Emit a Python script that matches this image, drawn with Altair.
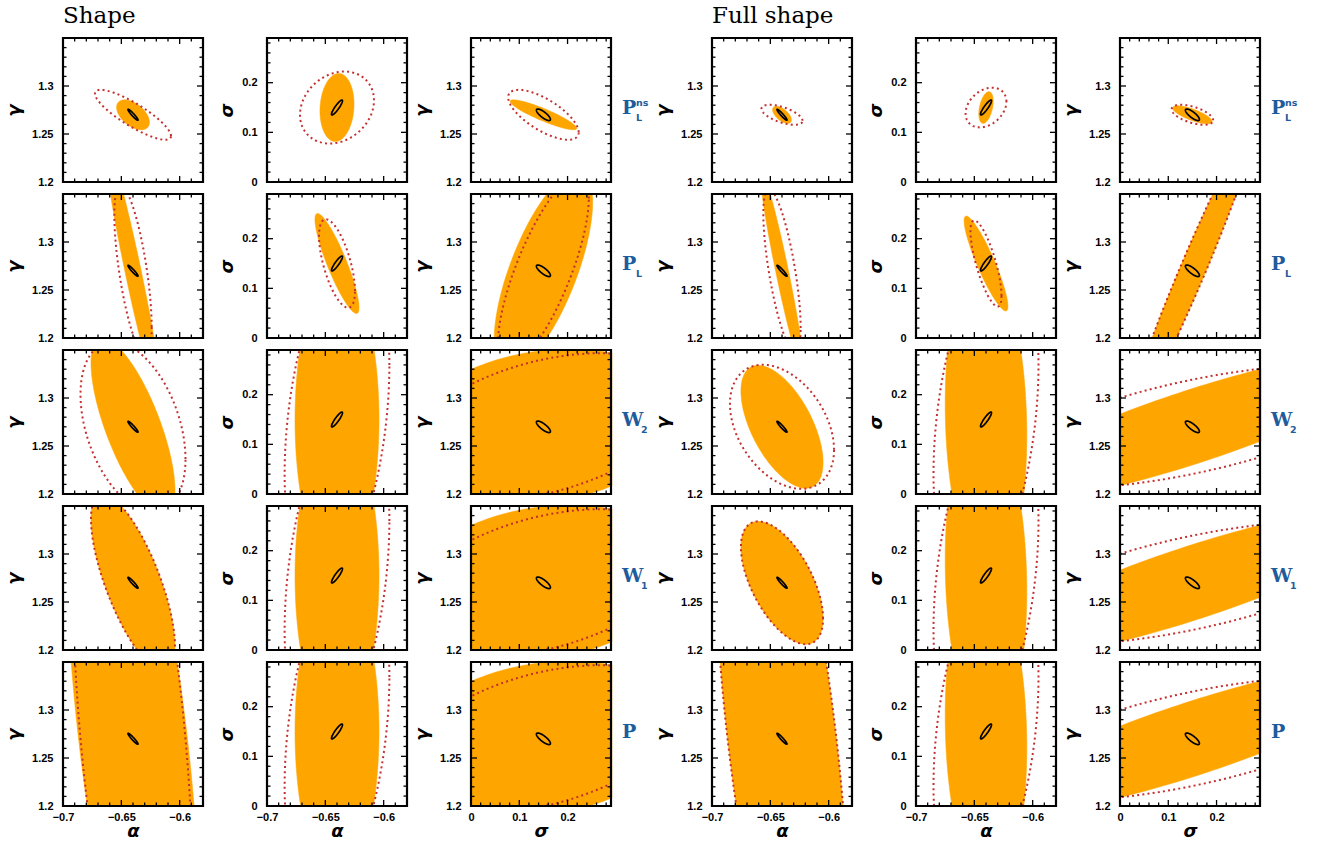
import numpy as np
import pandas as pd
import altair as alt

ORANGE = "#FFA500"
RED = "#C3302F"
BLUE = "#1F5C9C"
W, H = 140, 144
EXTRA = 37  # extra room right of the third column for the row labels

# axis ranges and fiducial point
DOMAIN = {"alpha": [-0.7, -0.58], "gamma": [1.2, 1.35], "sigma": [0.0, 0.29]}
FID = {"alpha": -0.64, "gamma": 1.27, "sigma": 0.15}
SYM = {"alpha": "α", "gamma": "γ", "sigma": "σ"}
COL_VARS = [("alpha", "gamma"), ("alpha", "sigma"), ("sigma", "gamma")]

# tick values
ALPHA_MAJOR = [-0.7, -0.65, -0.6]
ALPHA_MINOR = [-0.69, -0.68, -0.67, -0.66, -0.64, -0.63, -0.62, -0.61, -0.59]
GAMMA_MAJOR = [1.2, 1.25, 1.3]
GAMMA_MINOR = [1.21, 1.22, 1.23, 1.24, 1.26, 1.27, 1.28, 1.29, 1.31, 1.32, 1.33, 1.34]
SIGMA_MAJOR = [0.0, 0.1, 0.2]
SIGMA_MINOR = [0.02, 0.04, 0.06, 0.08, 0.12, 0.14, 0.16, 0.18, 0.22, 0.24, 0.26, 0.28]
MAJOR = {"alpha": ALPHA_MAJOR, "gamma": GAMMA_MAJOR, "sigma": SIGMA_MAJOR}
MINOR = {"alpha": ALPHA_MINOR, "gamma": GAMMA_MINOR, "sigma": SIGMA_MINOR}

GROUP_TITLES = ["Shape", "Full shape"]
ROW_LABELS = [("P", "L", "ns"), ("P", "L", ""), ("W", "2", ""), ("W", "1", ""), ("P", "", "")]

# ellipse parameters per row, per column: (half-extent x, half-extent y, correlation)
SHAPE_FILLED = [
    [(0.0141, 0.0156, -0.50), (0.0146, 0.0685, 0.10), (0.069, 0.0156, -0.90)],
    [(0.0242, 0.135, -0.957), (0.0189, 0.1007, -0.88), (0.102, 0.104, 0.69)],
    [(0.036, 0.092, -0.72), (0.036, 0.30, 0.0), (0.287, 0.081, 0.19)],
    [(0.036, 0.092, -0.72), (0.036, 0.30, 0.0), (0.287, 0.081, 0.19)],
    [(0.0572, 0.35, -0.578), (0.036, 0.30, 0.0), (0.287, 0.081, 0.19)],
]
SHAPE_DOTTED = [
    [(0.0326, 0.026, -0.85), (0.0317, 0.0725, 0.20), (0.073, 0.026, -0.70)],
    [(0.016, 0.0885, -0.66), (0.0154, 0.089, -0.62), (0.094, 0.099, 0.76)],
    [(0.045, 0.0885, -0.38), (0.0449, 0.332, 0.33), (0.29, 0.0766, 0.40)],
    [(0.036, 0.092, -0.72), (0.0449, 0.332, 0.33), (0.29, 0.0766, 0.40)],
    [(0.0518, 0.35, -0.496), (0.0449, 0.332, 0.33), (0.29, 0.0766, 0.40)],
]
FULL_FILLED = [
    [(0.0081, 0.0089, -0.60), (0.0062, 0.032, 0.40), (0.041, 0.0094, -0.75)],
    [(0.0185, 0.104, -0.954), (0.0188, 0.0956, -0.90), (0.133, 0.156, 0.977)],
    [(0.0352, 0.064, -0.58), (0.035, 0.32, -0.10), (0.42, 0.078, 0.86)],
    [(0.0352, 0.064, -0.58), (0.035, 0.32, -0.10), (0.42, 0.078, 0.86)],
    [(0.0572, 0.35, -0.578), (0.035, 0.32, -0.10), (0.42, 0.078, 0.86)],
]
FULL_DOTTED = [
    [(0.0176, 0.0104, -0.60), (0.0175, 0.040, 0.30), (0.043, 0.0104, -0.55)],
    [(0.016, 0.085, -0.70), (0.0133, 0.0866, -0.75), (0.133, 0.156, 0.977)],
    [(0.0446, 0.0646, -0.37), (0.045, 0.33, 0.33), (0.40, 0.064, 0.64)],
    [(0.0352, 0.064, -0.58), (0.045, 0.33, 0.33), (0.40, 0.064, 0.64)],
    [(0.0572, 0.35, -0.578), (0.045, 0.33, 0.33), (0.40, 0.064, 0.64)],
]
FIDUCIAL_ELLIPSE = [(0.0043, 0.0057, -0.95), (0.0047, 0.015, 0.90), (0.0145, 0.006, -0.80)]

FILLED = [SHAPE_FILLED, FULL_FILLED]
DOTTED = [SHAPE_DOTTED, FULL_DOTTED]

TITLE_X = {"gamma": -49, "sigma": -40}
T = np.linspace(0, 2 * np.pi, 181)


def ellipse_df(xv, yv, p):
    sx, sy, rho = p
    x = FID[xv] + sx * np.cos(T)
    y = FID[yv] + sy * (rho * np.cos(T) + np.sqrt(1 - rho ** 2) * np.sin(T))
    return pd.DataFrame({"x": x, "y": y, "i": np.arange(len(T))})


def panel(g, r, c):
    xv, yv = COL_VARS[c]
    wide = (c == 2)
    width = W + EXTRA if wide else W
    xs = alt.Scale(domain=DOMAIN[xv], range=[0, W], nice=False, zero=False)
    ys = alt.Scale(domain=DOMAIN[yv], nice=False, zero=False)
    if r == 4:
        xaxis = alt.Axis(values=MAJOR[xv], format="~g", title=SYM[xv], labelFlush=False,
                         labelOverlap=False, ticks=False, tickSize=0, domain=False, grid=False,
                         labelPadding=5, titleX=W / 2, titleY=25, titleBaseline="middle")
    else:
        xaxis = None
    yaxis = alt.Axis(values=MAJOR[yv], format="~g", title=SYM[yv], labelFlush=False,
                     labelOverlap=False, ticks=False, tickSize=0, domain=False, grid=False,
                     labelPadding=10, titleX=TITLE_X[yv], titleY=H / 2, titleBaseline="middle")

    def X(field):
        return alt.X(field, scale=xs, axis=xaxis)

    def Y(field):
        return alt.Y(field, scale=ys, axis=yaxis)

    layers = []
    layers.append(
        alt.Chart(ellipse_df(xv, yv, FILLED[g][r][c])).mark_line(
            fill=ORANGE, stroke=ORANGE, strokeWidth=0.5, clip=True
        ).encode(x=X("x:Q"), y=Y("y:Q"), order=alt.Order("i:Q"))
    )
    layers.append(
        alt.Chart(ellipse_df(xv, yv, DOTTED[g][r][c])).mark_line(
            stroke=RED, strokeWidth=2, strokeDash=[2, 3.2], clip=True
        ).encode(x=X("x:Q"), y=Y("y:Q"), order=alt.Order("i:Q"))
    )
    layers.append(
        alt.Chart(ellipse_df(xv, yv, FIDUCIAL_ELLIPSE[c])).mark_line(
            stroke="black", strokeWidth=1.7, clip=True
        ).encode(x=X("x:Q"), y=Y("y:Q"), order=alt.Order("i:Q"))
    )
    one = pd.DataFrame({"a": [0]})
    if wide:
        layers.append(alt.Chart(one).mark_rect(fill="white").encode(
            x=alt.value(W + 1.2), x2=alt.value(width + 2), y=alt.value(-2), y2=alt.value(H + 2)))
    # ticks (inward, on all four sides)
    for vals, ln in ((MAJOR[xv], 6), (MINOR[xv], 3.5)):
        d = pd.DataFrame({"x": vals})
        for y0, y1 in ((H, H - ln), (0, ln)):
            layers.append(alt.Chart(d).mark_rule(color="black", strokeWidth=1.3).encode(
                x=X("x:Q"), y=alt.value(y0), y2=alt.value(y1)))
    for vals, ln in ((MAJOR[yv], 6), (MINOR[yv], 3.5)):
        d = pd.DataFrame({"y": vals})
        for x0, x1 in ((0, ln), (W, W - ln)):
            layers.append(alt.Chart(d).mark_rule(color="black", strokeWidth=1.3).encode(
                y=Y("y:Q"), x=alt.value(x0), x2=alt.value(x1)))
    layers.append(alt.Chart(one).mark_rect(fill="transparent", stroke="black", strokeWidth=2.2).encode(
        x=alt.value(0), x2=alt.value(W), y=alt.value(0), y2=alt.value(H)))

    if r == 0 and c == 0:
        layers.append(alt.Chart(pd.DataFrame({"t": [GROUP_TITLES[g]]})).mark_text(
            font="DejaVu Serif", fontSize=23, align="left", baseline="alphabetic", color="black"
        ).encode(text="t:N", x=alt.value(0), y=alt.value(-15)))
    if wide:
        main, sub, sup = ROW_LABELS[r]
        mw = 13 if main == "P" else 18
        layers.append(alt.Chart(pd.DataFrame({"t": [main]})).mark_text(
            font="DejaVu Serif", fontSize=19, fontWeight="bold", align="left",
            baseline="alphabetic", color=BLUE
        ).encode(text="t:N", x=alt.value(W + 11), y=alt.value(76)))
        if sup:
            layers.append(alt.Chart(pd.DataFrame({"t": [sup]})).mark_text(
                font="DejaVu Sans", fontSize=9.5, fontWeight="bold", align="left",
                baseline="alphabetic", color=BLUE
            ).encode(text="t:N", x=alt.value(W + 11 + mw + 1), y=alt.value(68)))
        if sub:
            layers.append(alt.Chart(pd.DataFrame({"t": [sub]})).mark_text(
                font="DejaVu Sans", fontSize=9.5, fontWeight="bold", align="left",
                baseline="alphabetic", color=BLUE
            ).encode(text="t:N", x=alt.value(W + 11 + mw + 1), y=alt.value(83)))

    return alt.layer(*layers).properties(width=width, height=H)


panels = []
for r in range(5):
    for g in range(2):
        for c in range(3):
            panels.append(panel(g, r, c))

chart = alt.concat(*panels, columns=6, spacing={"row": 12, "column": 64}, bounds="flush").properties(
    padding={"left": 5, "top": 5, "right": 5, "bottom": 2}
).configure_view(strokeWidth=0).configure_axis(
    labelFont="Liberation Sans", labelFontWeight="bold", labelFontSize=11, labelColor="black",
    titleFont="DejaVu Sans", titleFontSize=18, titleFontWeight="bold", titleFontStyle="italic",
    titleColor="black"
)

chart.save("out.html", embed_options={"renderer": "svg", "actions": False})
